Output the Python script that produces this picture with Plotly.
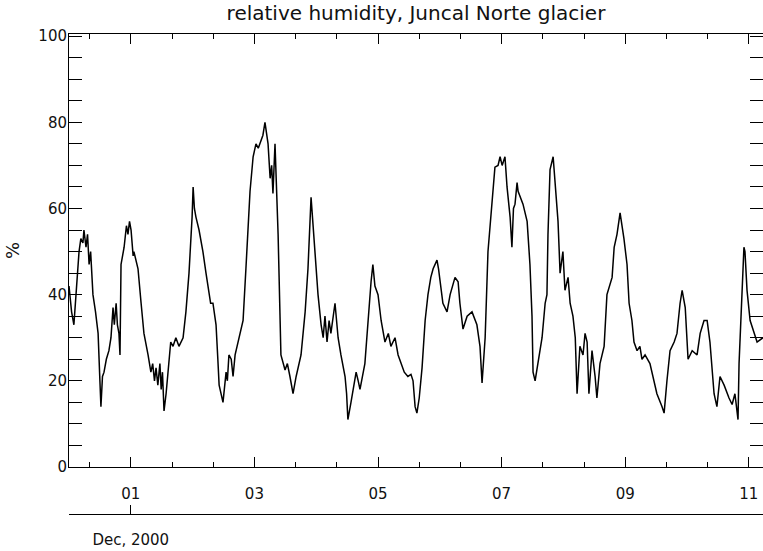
import pandas as pd
import plotly.graph_objects as go

# hours since 30 Nov 2000 00:00
hours = [0, 1.0, 1.9, 2.8, 3.9, 4.6, 5.4, 5.8, 6.6, 7.2, 7.8, 8.4, 9.3, 10.3, 11.3, 12.0, 12.4, 13.0, 13.6, 14.5,
         15.5, 16.3, 17.1, 17.6, 18.3, 18.8, 19.4, 19.8, 20.2, 21.4, 22.3, 22.9, 23.5, 24.1, 24.9, 25.2, 26.8, 28.0,
         29.1, 30.7, 31.8, 32.5, 33.2, 33.8, 34.5, 35.3, 35.8, 36.3, 36.9, 37.7, 38.8, 39.5, 40.4, 41.5, 42.7, 44.3,
         45.4, 46.6, 47.8, 48.2, 48.7, 49.3, 50.5, 52.0, 53.2, 54.4, 55.0, 55.9, 57.1, 57.8, 58.3, 59.8, 61.0, 61.5,
         62.1, 63.0, 63.7, 64.5, 65.6, 67.6, 68.7, 70.3, 71.5, 72.6, 73.5, 74.6, 75.3, 76.1, 76.8, 77.3, 78.1, 78.7,
         79.2, 80.0, 81.2, 81.9, 82.3, 83.9, 84.8, 85.8, 87.0, 88.2, 90.1, 91.7, 92.8, 94.0, 94.6, 95.5, 96.7, 97.9,
         98.7, 99.4, 100.2, 101.0, 101.7, 103.3, 104.5, 105.6, 107.2, 107.8, 108.3, 109.5, 111.5, 112.3, 113.0, 114.9,
         116.1, 117.3, 118.0, 118.8, 120.0, 121.2, 122.7, 124.0, 125.0, 126.6, 127.8, 128.9, 130.2, 131.6, 132.8,
         133.6, 134.4, 135.1, 136.0, 137.1, 138.3, 139.4, 140.5, 141.4, 142.9, 143.5, 144.1, 145.2, 146.8, 148.0,
         149.9, 151.1, 151.8, 153.0, 154.6, 156.5, 158.4, 159.6, 160.4, 161.6, 162.7, 164.3, 165.4, 166.6, 167.4,
         168.2, 169.3, 170.1, 171.3, 172.0, 172.6, 173.2, 174.0, 174.4, 175.1, 176.3, 177.9, 179.0, 179.8, 180.2,
         181.0, 182.1, 183.7, 184.9, 185.6, 186.0, 186.8, 188.0, 188.7, 189.5, 189.9, 190.7, 191.8, 192.6, 193.8,
         194.6, 195.7, 196.6, 197.3, 198.4, 199.6, 200.4, 201.2, 201.9, 202.5, 203.1, 204.3, 205.0, 206.2, 207.8,
         208.9, 210.9, 211.7, 212.8, 214.0, 215.5, 216.7, 217.5, 218.6, 219.4, 220.6, 221.7, 222.5, 223.7, 225.6,
         227.2, 228.3, 230.3, 231.1, 232.2, 233.4, 235.0, 236.1, 237.3, 238.1, 239.3, 240.4, 242.0, 243.9, 245.1,
         246.6, 247.8, 248.9, 250.5, 251.6, 252.8, 254.4, 256.3, 257.5, 258.6, 259.8, 260.2, 261.0, 262.1, 262.5,
         263.3, 264.5, 266.0, 267.2, 269.5]

rh = [42, 36, 33, 40, 50, 53, 52, 55, 51, 54, 47, 50, 40, 36, 31, 20, 14, 21, 22, 25,
      27, 30, 37, 33, 38, 33, 31, 26, 47, 51, 56, 54, 57, 55, 49, 50, 46, 38,
      31, 26, 22, 24, 20, 23, 19, 24, 18, 22, 13, 17, 25, 29, 28, 30, 28, 30,
      36, 45, 58, 65, 60, 58, 55, 50, 45, 40, 38, 38, 33, 25, 19, 15, 22, 20,
      26, 25, 21, 26, 29, 34, 46, 64, 72, 75, 74, 76, 77, 80, 77, 75, 67, 70,
      63.5, 75, 54, 39, 26, 22.5, 24, 21, 17, 21, 26, 36, 46, 62.6, 57, 50, 40, 33,
      30, 35, 29, 34, 31, 38, 30, 26, 21, 17, 11, 15, 22, 20, 18, 24,
      34, 43, 47, 42, 40, 34, 29, 31, 28, 30, 26, 24, 22, 21, 21.5,
      20, 14, 12.5, 16, 23, 34, 40, 44, 46, 48, 46, 43, 38, 36, 40,
      44, 43, 38, 32, 35, 36, 33, 28, 19.5, 30, 50, 63, 69.6, 70, 72,
      70, 72, 65, 58, 51, 60, 61, 66, 64, 63, 61, 57, 47, 35, 22,
      20, 24.5, 30, 38, 40, 54, 69, 72, 67, 61, 57, 45, 50, 41, 44,
      38, 35, 30, 17, 28, 26, 31, 29, 17, 23, 27, 21, 16, 24, 28,
      40, 44, 51, 54, 59, 53, 47, 38, 34, 29, 27, 28, 25, 26, 24,
      20, 17, 14, 12.5, 20, 27, 29, 31, 38, 41, 37, 25, 27, 26, 31,
      34, 34, 29, 17, 14, 21, 19, 16, 14.5, 17, 11, 24, 34, 51, 50,
      41, 34, 31, 29, 30]

title = "relative humidity, Juncal Norte glacier"
start = pd.Timestamp("2000-11-30 00:00")
x_end = pd.Timestamp("2000-12-11 05:30")
month_tick = [pd.Timestamp("2000-12-01")]
month_text = ["Dec, 2000"]

times = start + pd.to_timedelta(hours, unit="h")

font = dict(family="DejaVu Sans", size=15, color="#111")
fig = go.Figure()
fig.add_trace(go.Scatter(x=times, y=rh, mode="lines",
                         line=dict(color="black", width=1.5), showlegend=False))
# empty trace so the month axis underneath gets drawn
fig.add_trace(go.Scatter(x=[], y=[], xaxis="x2", yaxis="y", showlegend=False))

fig.update_layout(
    width=763, height=551,
    margin=dict(l=69, r=0, t=34, b=37),
    paper_bgcolor="white", plot_bgcolor="white",
    font=font,
    title=dict(text=title, xref="paper", x=0.5, xanchor="center", y=0.99, yanchor="top",
               font=dict(size=20)),
    xaxis=dict(type="date", range=[start, x_end], anchor="y", automargin=False,
               showline=True, linecolor="black", mirror="allticks",
               ticks="inside", ticklen=10, tickcolor="black",
               tick0="2000-12-01", dtick=2 * 86400000, tickformat="%d",
               ticklabelstandoff=13, showgrid=False, zeroline=False,
               minor=dict(ticks="inside", ticklen=5, dtick=16 * 3600000,
                          tick0="2000-12-01", tickcolor="black", showgrid=False)),
    xaxis2=dict(type="date", range=[start, x_end], overlaying="x", anchor="free",
                position=0, side="bottom", showline=True, linecolor="black",
                automargin=False, ticks="inside", ticklen=9, tickcolor="black",
                tickvals=month_tick, ticktext=month_text,
                ticklabelstandoff=12, showgrid=False, zeroline=False),
    yaxis=dict(range=[0, 100.5], domain=[0.098, 1], automargin=False,
               showline=True, linecolor="black", mirror="allticks",
               ticks="inside", ticklen=13, tickcolor="black", ticklabelstandoff=-2,
               tickvals=[0, 20, 40, 60, 80, 100], showgrid=False, zeroline=False,
               title=dict(text="%", standoff=14),
               minor=dict(ticks="inside", ticklen=7, dtick=5, tickcolor="black", showgrid=False)),
)

# the page body has a default 8px margin; drop it so the figure fills the window
fig.write_html("out.html", config={"displayModeBar": False},
               post_script="document.body.style.margin='0';")
